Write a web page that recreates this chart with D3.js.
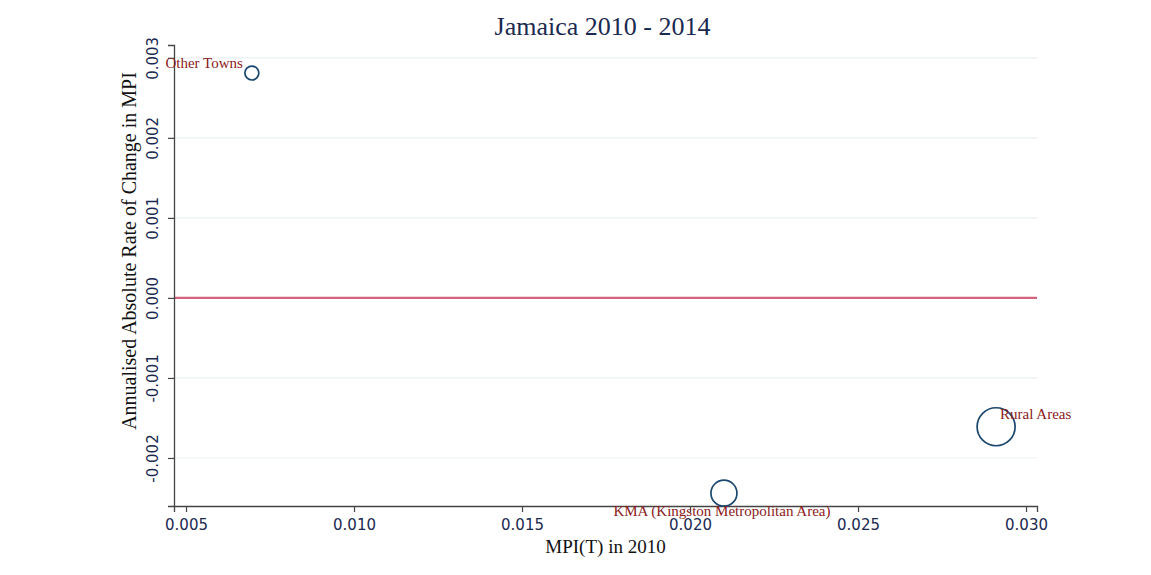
<!DOCTYPE html>
<html>
<head>
<meta charset="utf-8">
<script src="https://cdnjs.cloudflare.com/ajax/libs/d3/7.8.5/d3.min.js"></script>
<style>
  body { margin: 0; background: #fff; }
</style>
</head>
<body>
<div id="chart"></div>
<script>
var regions = ["Other Towns", "KMA (Kingston Metropolitan Area)", "Rural Areas"];
var mpi2010 = [0.00696, 0.02101, 0.02911];
var changeRate = [0.00281, -0.00244, -0.00161];
var popShare = [0.062, 0.215, 0.46];
var labelPos = ["left", "below", "right"];

var xTicks = [0.005, 0.010, 0.015, 0.020, 0.025, 0.030];
var yTicks = [-0.002, -0.001, 0.000, 0.001, 0.002, 0.003];

var margin = {top: 45, right: 114, bottom: 69, left: 174},
    width = 1151 - margin.left - margin.right,
    height = 575 - margin.top - margin.bottom;

var x = d3.scaleLinear()
    .domain([0.004643, 0.030327])
    .range([0, width]);

var y = d3.scaleLinear()
    .domain([-0.0026, 0.00316])
    .range([height, 0]);

var r = d3.scaleSqrt()
    .domain([0, d3.max(popShare)])
    .range([0, 19]);

// plain hyphen minus, like the original
var fmt = function(d) { return Math.abs(d) < 1e-12 ? "0.000" : d.toFixed(3); };

var svg = d3.select("#chart").append("svg")
    .attr("width", 1151)
    .attr("height", 575)
    .append("g")
    .attr("transform", "translate(" + margin.left + "," + margin.top + ")");

// gridlines
svg.selectAll(".grid")
    .data(yTicks.filter(function(d) { return d !== 0; }))
    .enter().append("line")
    .attr("x1", 0)
    .attr("x2", width)
    .attr("y1", function(d) { return y(d); })
    .attr("y2", function(d) { return y(d); })
    .style("stroke", "#eaf2f3")
    .style("stroke-width", 1.2);

// zero line
svg.append("line")
    .attr("x1", 0)
    .attr("x2", width)
    .attr("y1", y(0))
    .attr("y2", y(0))
    .style("stroke", "#d4637c")
    .style("stroke-width", 2.4);

var xAxis = svg.append("g")
    .attr("transform", "translate(0," + height + ")")
    .call(d3.axisBottom(x).tickValues(xTicks).tickFormat(fmt).tickSizeOuter(0).tickSize(6));

var yAxis = svg.append("g")
    .call(d3.axisLeft(y).tickValues(yTicks).tickFormat(fmt).tickSizeOuter(0).tickSize(6));

[xAxis, yAxis].forEach(function(a) {
  a.select(".domain").style("stroke", "#444").style("stroke-width", 1.3);
  a.selectAll(".tick line").style("stroke", "#444").style("stroke-width", 1.2);
  a.selectAll(".tick text")
    .style("font-family", "DejaVu Sans")
    .style("font-size", "15px")
    .style("fill", "#1a2a50");
});

xAxis.selectAll(".tick text").attr("y", 13);

yAxis.selectAll(".tick text")
    .attr("transform", "rotate(-90)")
    .attr("x", 0)
    .attr("y", -16)
    .attr("dy", 0)
    .style("text-anchor", "middle");

// data points
var pts = regions.map(function(d, i) {
  return {name: d, mx: mpi2010[i], ch: changeRate[i], w: popShare[i], pos: labelPos[i]};
});

svg.selectAll(".pt")
    .data(pts)
    .enter().append("circle")
    .attr("cx", function(d) { return x(d.mx); })
    .attr("cy", function(d) { return y(d.ch); })
    .attr("r", function(d) { return r(d.w); })
    .style("fill", "none")
    .style("stroke", "#1a476f")
    .style("stroke-width", 1.7);

svg.selectAll(".lbl")
    .data(pts)
    .enter().append("text")
    .attr("x", function(d) {
      if (d.pos === "left") return x(d.mx) - 9;
      if (d.pos === "right") return x(d.mx) + 4;
      return x(d.mx) - 2;
    })
    .attr("y", function(d) {
      if (d.pos === "left") return y(d.ch) - 5;
      if (d.pos === "right") return y(d.ch) - 8;
      return y(d.ch) + 23;
    })
    .style("text-anchor", function(d) {
      if (d.pos === "left") return "end";
      if (d.pos === "right") return "start";
      return "middle";
    })
    .style("font-family", "Liberation Serif")
    .style("font-size", "15px")
    .style("fill", "#8b2020")
    .text(function(d) { return d.name; });

// titles
svg.append("text")
    .attr("x", width / 2 - 3)
    .attr("y", -10)
    .style("text-anchor", "middle")
    .style("font-family", "Liberation Serif")
    .style("font-size", "26px")
    .style("fill", "#1a2a50")
    .text("Jamaica 2010 - 2014");

svg.append("text")
    .attr("x", width / 2)
    .attr("y", height + 47)
    .style("text-anchor", "middle")
    .style("font-family", "Liberation Serif")
    .style("font-size", "19px")
    .style("fill", "#111")
    .text("MPI(T) in 2010");

svg.append("text")
    .attr("transform", "rotate(-90)")
    .attr("x", -(251 - margin.top))
    .attr("y", -38)
    .style("text-anchor", "middle")
    .style("font-family", "Liberation Serif")
    .style("font-size", "20px")
    .style("fill", "#111")
    .text("Annualised Absolute Rate of Change in MPI");
</script>
</body>
</html>
